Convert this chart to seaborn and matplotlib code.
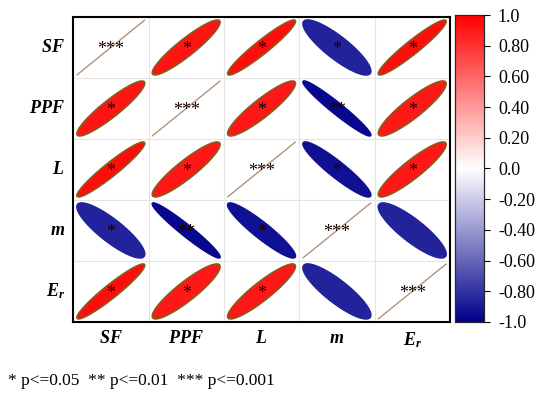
import numpy as np
import pandas as pd
import seaborn as sns
import matplotlib
matplotlib.use('Agg')
import matplotlib.pyplot as plt
from matplotlib.colors import LinearSegmentedColormap, Normalize

labels = ['$SF$', '$PPF$', '$L$', '$m$', '$E_r$']
# correlation matrix rows
r_sf = [1.00, 0.92, 0.95, -0.86, 0.95]
r_ppf = [0.92, 1.00, 0.91, -0.965, 0.90]
r_l = [0.95, 0.91, 1.00, -0.93, 0.91]
r_m = [-0.86, -0.965, -0.93, 1.00, -0.86]
r_er = [0.95, 0.90, 0.91, -0.86, 1.00]
stars_sf = ['***', '*', '*', '*', '*']
stars_ppf = ['*', '***', '*', '**', '*']
stars_l = ['*', '*', '***', '*', '*']
stars_m = ['*', '**', '*', '***', '']
stars_er = ['*', '*', '*', '', '***']
cbar_ticks = [-1.0, -0.8, -0.6, -0.4, -0.2, 0.0, 0.2, 0.4, 0.6, 0.8, 1.0]
cbar_labels = ['-1.0', '-0.80', '-0.60', '-0.40', '-0.20', '0.0',
               '0.20', '0.40', '0.60', '0.80', '1.0']

corr = pd.DataFrame([r_sf, r_ppf, r_l, r_m, r_er], index=labels, columns=labels)
stars = [stars_sf, stars_ppf, stars_l, stars_m, stars_er]

sns.set_style('white')
plt.rcParams['font.family'] = ['Liberation Serif', 'DejaVu Serif']
plt.rcParams['mathtext.fontset'] = 'custom'
plt.rcParams['mathtext.it'] = 'Liberation Serif:italic:bold'
plt.rcParams['mathtext.rm'] = 'Liberation Serif'
plt.rcParams['text.color'] = 'black'
plt.rcParams['xtick.color'] = 'black'
plt.rcParams['ytick.color'] = 'black'

cmap = LinearSegmentedColormap.from_list('bwr2', ['#00008B', '#FFFFFF', '#FF0000'])
norm = Normalize(-1, 1)

fig = plt.figure(figsize=(5.5, 3.95), dpi=100)
ax = fig.add_axes([0.133, 0.185, 0.685, 0.772])
cax = fig.add_axes([0.827, 0.185, 0.053, 0.777])

mask = np.ones_like(corr.values, dtype=bool)
sns.heatmap(corr, mask=mask, cmap=cmap, vmin=-1, vmax=1, ax=ax, cbar_ax=cax,
            cbar_kws={'ticks': cbar_ticks})

n = len(labels)
for k in range(1, n):
    ax.axhline(k, color='#e4e4e4', lw=0.8, zorder=0)
    ax.axvline(k, color='#e4e4e4', lw=0.8, zorder=0)

t = np.linspace(0, 2 * np.pi, 200)
for i in range(n):
    for j in range(n):
        r = corr.values[i, j]
        cx, cy = j + 0.5, i + 0.5
        if i == j:
            ax.plot([cx - 0.45, cx + 0.45], [cy + 0.45, cy - 0.45], color='#b09478', lw=1.0)
        else:
            d = np.arccos(r)
            xs = cx + 0.45 * np.cos(t + d / 2)
            ys = cy - 0.45 * np.cos(t - d / 2)
            edge = '#8a5a1c' if r > 0 else cmap(norm(r))
            ax.fill(xs, ys, facecolor=cmap(norm(r)), edgecolor=edge, lw=1.2)
        if stars[i][j]:
            ax.text(cx, cy + 0.03, stars[i][j], ha='center', va='center',
                    fontsize=13, color='#1a0000')

for s in ax.spines.values():
    s.set_visible(True)
    s.set_color('black')
    s.set_linewidth(1.5)
ax.tick_params(length=0, labelsize=13, pad=6)
ax.set_yticklabels(labels, rotation=0)
ax.set_xticklabels(labels, rotation=0)

cax.set_yticklabels(cbar_labels)
cax.tick_params(labelsize=13, length=4, direction='out', pad=6)
for s in cax.spines.values():
    s.set_visible(True)
    s.set_linewidth(0.8)

fig.text(0.015, 0.025, '* p<=0.05  ** p<=0.01  *** p<=0.001', fontsize=12.5)

fig.savefig('out.png', dpi=100)
